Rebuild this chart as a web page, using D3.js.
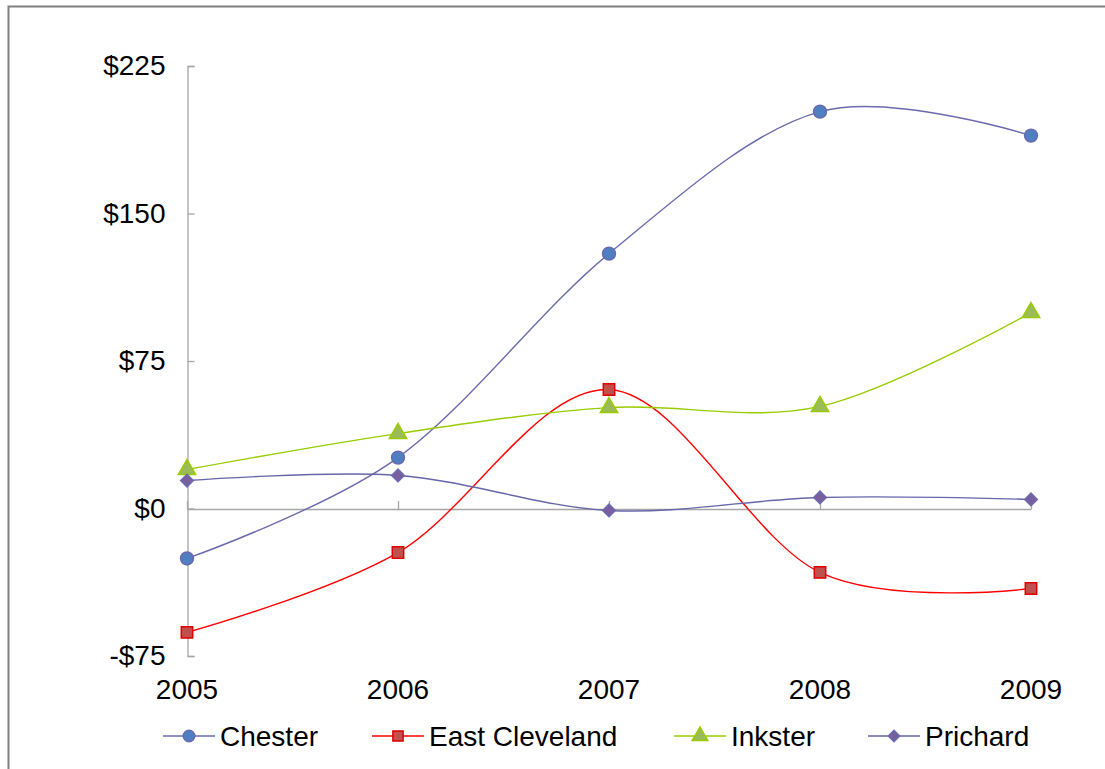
<!DOCTYPE html>
<html>
<head>
<meta charset="utf-8">
<script src="https://cdn.jsdelivr.net/npm/d3@7"></script>
<style>
  html, body { margin: 0; padding: 0; background: #fff; }
  svg { display: block; font-family: "Liberation Sans", Arial, sans-serif; }
</style>
</head>
<body>
<svg id="chart" width="1105" height="769"></svg>
<script>
const years = ["2005", "2006", "2007", "2008", "2009"];
const seriesNames = ["Chester", "East Cleveland", "Inkster", "Prichard"];
const chester = [-25.4, 25.9, 129.6, 201.8, 189.6];
const eastCleveland = [-63, -22.4, 60.5, -32.5, -40.7];
const inkster = [19.8, 38.1, 51.3, 51.9, 99.6];
const prichard = [14.2, 16.8, -1, 5.6, 4.6];
const yTicks = [-75, 0, 75, 150, 225];

const seriesValues = [chester, eastCleveland, inkster, prichard];
const styles = [
  { line: "#6a6aae", fill: "#4f7fc0", stroke: "#6a6aae", symbol: d3.symbolCircle, size: 130, rot: 0 },
  { line: "#ff0000", fill: "#c0504d", stroke: "#e00000", symbol: d3.symbolSquare, size: 130, rot: 0 },
  { line: "#99cc00", fill: "#9bbb59", stroke: "#99cc00", symbol: d3.symbolTriangle, size: 130, rot: 0 },
  { line: "#6666aa", fill: "#7a5fa0", stroke: "#6a6aae", symbol: d3.symbolSquare, size: 80, rot: 45 }
];

const svg = d3.select("#chart");

// outer border (left and top visible)
svg.append("path")
  .attr("d", "M8.5,769 L8.5,6.5 L1105,6.5")
  .attr("fill", "none").attr("stroke", "#808080").attr("stroke-width", 2);

const x = d3.scalePoint().domain(years).range([187, 1031]);
const y = d3.scaleLinear().domain([-75, 225]).range([656, 66]);

const axisColor = "#a6a6a6";
const fontSize = 28;

// y axis
const yAxis = svg.append("g").attr("transform", "translate(187.5,0)")
  .call(d3.axisLeft(y).tickValues(yTicks).tickSize(-7).tickPadding(22)
    .tickFormat(d => (d < 0 ? "-$" : "$") + Math.abs(d)));
yAxis.select(".domain").attr("stroke", axisColor).attr("stroke-width", 1.3);
yAxis.selectAll(".tick line").attr("stroke", axisColor).attr("stroke-width", 1.3);
yAxis.selectAll(".tick text").attr("font-size", fontSize).attr("fill", "#000")
  .attr("font-family", "Liberation Sans, Arial, sans-serif");

// x axis at zero
const xAxis = svg.append("g").attr("transform", `translate(0,${y(0) + 0.5})`)
  .call(d3.axisBottom(x).tickSize(-8).tickSizeOuter(0).tickFormat(() => ""));
xAxis.select(".domain").attr("stroke", axisColor).attr("stroke-width", 1.3);
xAxis.selectAll(".tick line").attr("stroke", axisColor).attr("stroke-width", 1.3);

// x labels at bottom
svg.append("g").selectAll("text").data(years).join("text")
  .attr("x", d => x(d)).attr("y", 699)
  .attr("text-anchor", "middle").attr("font-size", fontSize).attr("fill", "#000")
  .text(d => d);

const line = d3.line()
  .x((d, i) => x(years[i]))
  .y(d => y(d))
  .curve(d3.curveCardinal.tension(0));

seriesValues.forEach((vals, si) => {
  const st = styles[si];
  svg.append("path").datum(vals)
    .attr("d", line).attr("fill", "none")
    .attr("stroke", st.line).attr("stroke-width", 1.4);
});
seriesValues.forEach((vals, si) => {
  const st = styles[si];
  svg.append("g").selectAll("path").data(vals).join("path")
    .attr("transform", (d, i) => `translate(${x(years[i])},${y(d)}) rotate(${st.rot})`)
    .attr("d", d3.symbol().type(st.symbol).size(st.size))
    .attr("fill", st.fill).attr("stroke", st.stroke).attr("stroke-width", 1.5);
});

// legend
const legendX = [163, 372, 674, 868];
const legendY = 736;
seriesNames.forEach((name, si) => {
  const st = styles[si];
  const g = svg.append("g").attr("transform", `translate(${legendX[si]},${legendY})`);
  g.append("line").attr("x1", 0).attr("x2", 52).attr("y1", 0).attr("y2", 0)
    .attr("stroke", st.line).attr("stroke-width", 1.4);
  g.append("path").attr("transform", `translate(26,0) rotate(${st.rot})`)
    .attr("d", d3.symbol().type(st.symbol).size(st.size * 0.8))
    .attr("fill", st.fill).attr("stroke", st.stroke).attr("stroke-width", 1.5);
  g.append("text").attr("x", 57).attr("y", 0).attr("dy", "0.35em")
    .attr("font-size", fontSize).attr("fill", "#000").text(name);
});
</script>
</body>
</html>
